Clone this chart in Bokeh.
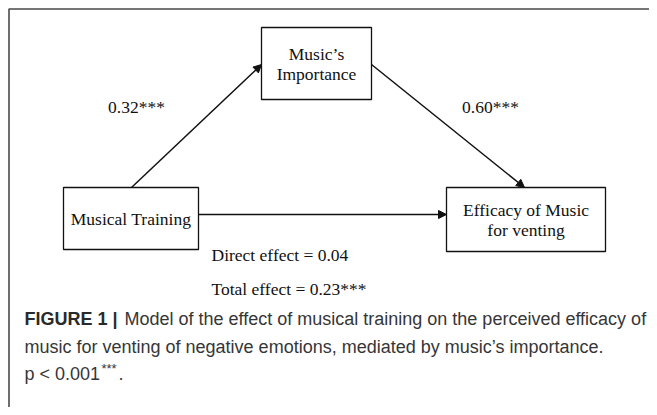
from bokeh.plotting import figure
from bokeh.models import Range1d, Arrow, NormalHead, ColumnDataSource
from bokeh.embed import file_html
from bokeh.resources import INLINE
from bokeh.core.properties import value

# ---- data ----
node_names = ["Musical Training", "Music\u2019s Importance", "Efficacy of Music for venting"]
node_lines = [["Musical Training"], ["Music\u2019s", "Importance"], ["Efficacy of Music", "for venting"]]
path_a = "0.32***"
path_b = "0.60***"
direct_effect = "0.04"
total_effect = "0.23***"
caption_bold = "FIGURE 1 |"
caption_lines = [
    "Model of the effect of musical training on the perceived efficacy of",
    "music for venting of negative emotions, mediated by music\u2019s importance.",
]
p_value = "p < 0.001"
p_stars = "***"

# ---- layout (pixel coordinates) ----
W, H = 649, 407
boxes = {  # left, right, top, bottom
    0: (63, 198, 187, 249),
    1: (261, 371, 27, 99),
    2: (446, 605, 187, 251),
}
SERIF = value("Liberation Serif")
SANS = value("Liberation Sans")
FS = "17.5px"
CFS = "18px"

p = figure(width=W, height=H, output_backend="svg", toolbar_location=None,
           x_range=Range1d(0, W), y_range=Range1d(H, 0),
           min_border=0)
p.axis.visible = False
p.grid.visible = False
p.outline_line_color = None
p.background_fill_color = "white"

# frame (left and top edges)
p.line(x=[8.5, 8.5, 700], y=[500, 8.5, 8.5], line_color="#4a4a4a", line_width=1.6)

# boxes
src = ColumnDataSource(dict(
    left=[boxes[i][0] for i in range(3)], right=[boxes[i][1] for i in range(3)],
    top=[boxes[i][2] for i in range(3)], bottom=[boxes[i][3] for i in range(3)],
    name=node_names))
p.quad(left="left", right="right", top="top", bottom="bottom", source=src,
       fill_color="white", line_color="#111111", line_width=1.3)

# node labels
line_gap = 20
for i, lines in enumerate(node_lines):
    l, r, t, b = boxes[i]
    cx, cy = (l + r) / 2, (t + b) / 2
    n = len(lines)
    ys = [cy + (k - (n - 1) / 2) * line_gap for k in range(n)]
    p.text(x=[cx] * n, y=ys, text=lines, text_font=SERIF, text_font_size=FS,
           text_align="center", text_baseline="middle", text_color="#111111")

# arrows
head = dict(size=8, fill_color="#111111", line_color="#111111", line_width=1)
p.add_layout(Arrow(end=NormalHead(**head), x_start=131, y_start=187, x_end=261, y_end=64,
                   line_width=1.5, line_color="#111111"))
p.add_layout(Arrow(end=NormalHead(**head), x_start=371, y_start=64, x_end=524, y_end=187,
                   line_width=1.5, line_color="#111111"))
p.add_layout(Arrow(end=NormalHead(**head), x_start=198, y_start=214, x_end=446, y_end=214,
                   line_width=1.5, line_color="#111111"))

# path coefficients
p.text(x=[136, 490], y=[106, 106], text=[path_a, path_b], text_font=SERIF,
       text_font_size=FS, text_align="center", text_baseline="middle", text_color="#111111")
p.text(x=[211, 211], y=[254, 288],
       text=["Direct effect = " + direct_effect, "Total effect = " + total_effect],
       text_font=SERIF, text_font_size=FS, text_align="left", text_baseline="middle",
       text_color="#111111")

# caption
cap_color = "#363636"
y1, y2, y3 = 318, 346, 373
p.text(x=[24], y=[y1], text=[caption_bold], text_font=SANS, text_font_size=CFS,
       text_font_style="bold", text_align="left", text_baseline="middle", text_color="#2a2a2a")
p.text(x=[124, 24], y=[y1, y2], text=caption_lines, text_font=SANS, text_font_size=CFS,
       text_align="left", text_baseline="middle", text_color=cap_color)
p.text(x=[24], y=[y3], text=[p_value], text_font=SANS, text_font_size=CFS,
       text_align="left", text_baseline="middle", text_color=cap_color)
p.text(x=[101], y=[y3 - 5], text=[p_stars], text_font=SANS, text_font_size="13px",
       text_align="left", text_baseline="middle", text_color=cap_color)
p.text(x=[118], y=[y3], text=["."], text_font=SANS, text_font_size=CFS,
       text_align="left", text_baseline="middle", text_color=cap_color)

open("out.html", "w").write(file_html(p, INLINE))
